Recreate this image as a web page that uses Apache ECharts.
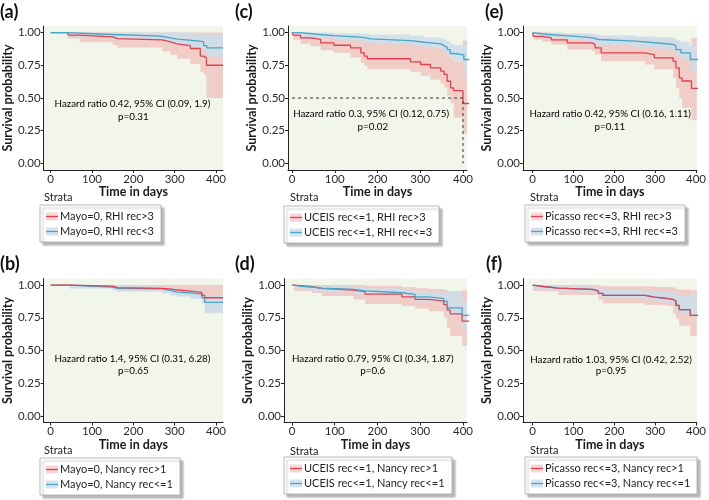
<!DOCTYPE html>
<html><head><meta charset="utf-8">
<script src="https://cdn.jsdelivr.net/npm/echarts@6/dist/echarts.min.js"></script>
<style>html,body{margin:0;padding:0;background:#fff}#c{width:709px;height:500px}</style>
</head><body><div id="c"></div>
<script>
// ---------------- DATA ----------------
const xTicks = [0, 100, 200, 300, 400];
const yTicks = [0, 0.25, 0.5, 0.75, 1];

// (a) Mayo=0, RHI
const aNames = ['Mayo=0, RHI rec>3', 'Mayo=0, RHI rec<3'];
const aRedT  = [0, 42, 70, 150, 162, 270, 290, 306, 338, 362, 370, 377, 417];
const aRedS  = [1, 0.98, 0.967, 0.954, 0.944, 0.929, 0.914, 0.90, 0.878, 0.82, 0.807, 0.75, 0.75];
const aRedLo = [1, 0.955, 0.925, 0.905, 0.885, 0.855, 0.83, 0.80, 0.76, 0.70, 0.675, 0.50, 0.50];
const aRedHi = [1, 1, 1, 1, 1, 1, 1, 1, 1, 1, 1, 1, 1];
const aBlueT  = [0, 42, 150, 266, 290, 306, 342, 370, 378, 417];
const aBlueS  = [1, 0.985, 0.972, 0.96, 0.95, 0.94, 0.93, 0.90, 0.883, 0.883];
const aBlueLo = [1, 0.97, 0.95, 0.935, 0.92, 0.905, 0.89, 0.855, 0.815, 0.815];
const aBlueHi = [1, 1, 1, 1, 1, 1, 0.995, 0.99, 0.985, 0.985];
const aText = ['Hazard ratio 0.42, 95% CI (0.09, 1.9)', 'p=0.31'];

// (c) UCEIS, RHI
const cNames = ['UCEIS rec<=1, RHI rec>3', 'UCEIS rec<=1, RHI rec<=3'];
const cRedT  = [0, 3, 20, 44, 67, 98, 137, 161, 169, 176, 277, 301, 324, 348, 356, 363, 371, 378, 400, 415];
const cRedS  = [1, 0.98, 0.96, 0.947, 0.921, 0.903, 0.883, 0.845, 0.82, 0.80, 0.776, 0.756, 0.73, 0.705, 0.68, 0.628, 0.578, 0.556, 0.458, 0.458];
const cRedLo = [1, 0.945, 0.915, 0.895, 0.865, 0.845, 0.81, 0.77, 0.745, 0.72, 0.70, 0.67, 0.64, 0.61, 0.58, 0.52, 0.46, 0.35, 0.23, 0.23];
const cRedHi = [1, 1, 0.995, 0.99, 0.985, 0.975, 0.965, 0.95, 0.94, 0.935, 0.925, 0.915, 0.90, 0.885, 0.87, 0.84, 0.80, 0.78, 0.94, 0.94];
const cBlueT  = [0, 20, 58, 98, 161, 184, 277, 309, 348, 356, 363, 370, 379, 402, 415];
const cBlueS  = [1, 0.987, 0.977, 0.965, 0.952, 0.939, 0.926, 0.913, 0.90, 0.887, 0.87, 0.84, 0.83, 0.794, 0.794];
const cBlueLo = [1, 0.965, 0.955, 0.94, 0.925, 0.91, 0.895, 0.88, 0.865, 0.85, 0.83, 0.80, 0.785, 0.69, 0.69];
const cBlueHi = [1, 1, 1, 0.995, 0.99, 0.985, 0.975, 0.965, 0.955, 0.945, 0.935, 0.915, 0.905, 0.91, 0.91];
const cMedian = 400;
const cText = ['Hazard ratio 0.3, 95% CI (0.12, 0.75)', 'p=0.02'];

// (e) Picasso, RHI
const eNames = ['Picasso rec<=3, RHI rec>3', 'Picasso rec<=3, RHI rec<=3'];
const eRedT  = [0, 2, 24, 46, 85, 146, 153, 168, 275, 298, 344, 351, 359, 366, 389, 405];
const eRedS  = [1, 0.97, 0.96, 0.944, 0.921, 0.908, 0.883, 0.845, 0.832, 0.807, 0.78, 0.73, 0.654, 0.63, 0.573, 0.573];
const eRedLo = [1, 0.947, 0.93, 0.908, 0.87, 0.86, 0.832, 0.78, 0.756, 0.718, 0.654, 0.578, 0.50, 0.425, 0.33, 0.33];
const eRedHi = [1, 1, 1, 0.995, 0.99, 0.985, 0.975, 0.96, 0.955, 0.95, 0.94, 0.92, 0.90, 0.89, 0.96, 0.96];
const eBlueT  = [0, 2, 39, 77, 123, 146, 161, 252, 306, 344, 351, 363, 386, 405];
const eBlueS  = [1, 0.985, 0.977, 0.967, 0.96, 0.947, 0.934, 0.92, 0.91, 0.896, 0.87, 0.845, 0.794, 0.794];
const eBlueLo = [1, 0.967, 0.958, 0.945, 0.935, 0.92, 0.905, 0.89, 0.875, 0.855, 0.825, 0.79, 0.70, 0.70];
const eBlueHi = [1, 1, 1, 0.995, 0.99, 0.985, 0.98, 0.97, 0.965, 0.96, 0.945, 0.93, 0.90, 0.90];
const eText = ['Hazard ratio 0.42, 95% CI (0.16, 1.11)', 'p=0.11'];

// (b) Mayo=0, Nancy
const bNames = ['Mayo=0, Nancy rec>1', 'Mayo=0, Nancy rec<=1'];
const bRedT  = [0, 46, 150, 162, 270, 290, 306, 338, 366, 373, 417];
const bRedS  = [1, 0.992, 0.98, 0.975, 0.97, 0.962, 0.954, 0.944, 0.921, 0.903, 0.903];
const bRedLo = [1, 0.978, 0.96, 0.952, 0.945, 0.933, 0.92, 0.905, 0.87, 0.79, 0.79];
const bRedHi = [1, 1, 1, 1, 1, 1, 1, 1, 1, 1, 1];
const bBlueT  = [0, 46, 150, 162, 270, 290, 306, 338, 366, 373, 417];
const bBlueS  = [1, 0.985, 0.975, 0.97, 0.959, 0.946, 0.94, 0.93, 0.903, 0.868, 0.868];
const bBlueLo = [1, 0.972, 0.958, 0.95, 0.935, 0.92, 0.91, 0.895, 0.86, 0.785, 0.785];
const bBlueHi = [1, 0.998, 0.992, 0.99, 0.983, 0.975, 0.97, 0.965, 0.945, 0.92, 0.92];
const bText = ['Hazard ratio 1.4, 95% CI (0.31, 6.28)', 'p=0.65'];

// (d) UCEIS, Nancy
const dNames = ['UCEIS rec<=1, Nancy rec>1', 'UCEIS rec<=1, Nancy rec<=1'];
const dRedT  = [0, 5, 47, 70, 144, 171, 257, 288, 320, 355, 363, 370, 398, 415];
const dRedS  = [1, 0.987, 0.975, 0.962, 0.949, 0.93, 0.91, 0.89, 0.877, 0.85, 0.81, 0.78, 0.725, 0.725];
const dRedLo = [1, 0.955, 0.94, 0.917, 0.89, 0.855, 0.84, 0.82, 0.80, 0.75, 0.67, 0.61, 0.535, 0.535];
const dRedHi = [1, 1, 1, 1, 1, 0.995, 0.985, 0.975, 0.97, 0.965, 0.955, 0.955, 0.96, 0.96];
const dBlueT  = [0, 5, 23, 47, 70, 144, 171, 257, 288, 320, 355, 363, 398, 415];
const dBlueS  = [1, 0.99, 0.985, 0.977, 0.967, 0.956, 0.941, 0.928, 0.91, 0.897, 0.877, 0.826, 0.768, 0.768];
const dBlueLo = [1, 0.975, 0.965, 0.955, 0.945, 0.93, 0.915, 0.90, 0.88, 0.865, 0.84, 0.77, 0.66, 0.66];
const dBlueHi = [1, 1, 1, 0.998, 0.99, 0.985, 0.975, 0.965, 0.955, 0.945, 0.93, 0.95, 0.88, 0.88];
const dText = ['Hazard ratio 0.79, 95% CI (0.34, 1.87)', 'p=0.6'];

// (f) Picasso, Nancy
const fNames = ['Picasso rec<=3, Nancy rec>1', 'Picasso rec<=3, Nancy rec<=1'];
const fRedT  = [0, 1, 31, 62, 146, 161, 172, 275, 298, 328, 344, 351, 359, 386, 405];
const fRedS  = [1, 0.987, 0.977, 0.967, 0.955, 0.937, 0.921, 0.908, 0.898, 0.89, 0.877, 0.844, 0.813, 0.768, 0.768];
const fRedLo = [1, 0.955, 0.95, 0.924, 0.924, 0.89, 0.86, 0.85, 0.845, 0.84, 0.78, 0.74, 0.69, 0.61, 0.61];
const fRedHi = [1, 1, 1, 1, 1, 0.995, 0.99, 0.99, 0.985, 0.985, 0.98, 0.97, 0.965, 0.96, 0.96];
const fBlueT  = [0, 1, 31, 62, 146, 161, 172, 275, 298, 328, 344, 351, 359, 386, 405];
const fBlueS  = [1, 0.987, 0.977, 0.967, 0.955, 0.937, 0.921, 0.908, 0.898, 0.89, 0.877, 0.844, 0.813, 0.768, 0.768];
const fBlueLo = [1, 0.97, 0.962, 0.95, 0.94, 0.915, 0.90, 0.885, 0.875, 0.865, 0.85, 0.81, 0.78, 0.77, 0.77];
const fBlueHi = [1, 1, 0.995, 0.99, 0.985, 0.975, 0.965, 0.955, 0.95, 0.945, 0.94, 0.93, 0.92, 0.94, 0.94];
const fText = ['Hazard ratio 1.03, 95% CI (0.42, 2.52)', 'p=0.95'];

// ---------------- LAYOUT / STYLE ----------------
const FONT = 'Lato';
const RED = '#E2404F', BLUE = '#48A6C6';
const RED_BAND = 'rgba(238,100,105,0.27)', BLUE_BAND = 'rgba(205,222,236,0.85)';
const BG = '#F2F5EA';

const panels = [
  {label:'(a)', lx:0,   ly:3,   left:42,  top:26,    width:181, xmin:-17,   xmax:417,   hr:[198,0.458], p:[200,0.356], strata:[44,197],  box:[40,205],  blueTop:true,
   red:[aRedT,aRedS,aRedLo,aRedHi], blue:[aBlueT,aBlueS,aBlueLo,aBlueHi], names:aNames, text:aText},
  {label:'(c)', lx:235, ly:3,   left:288, top:26,    width:179, xmin:-9.4,  xmax:409.4, hr:[185,0.382], p:[189,0.28],  strata:[290,197], box:[284,206], blueTop:true, median:cMedian,
   red:[cRedT,cRedS,cRedLo,cRedHi], blue:[cBlueT,cBlueS,cBlueLo,cBlueHi], names:cNames, text:cText},
  {label:'(e)', lx:485, ly:3,   left:523, top:26,    width:186, xmin:-23.5, xmax:402,   hr:[190,0.38],  p:[189,0.28],  strata:[530,197], box:[525,205], blueTop:true,
   red:[eRedT,eRedS,eRedLo,eRedHi], blue:[eBlueT,eBlueS,eBlueLo,eBlueHi], names:eNames, text:eText},
  {label:'(b)', lx:0,   ly:255, left:42,  top:278.5, width:181, xmin:-17,   xmax:417,   hr:[198,0.44],  p:[200,0.345], strata:[44,450],  box:[40,458],  blueTop:false,
   red:[bRedT,bRedS,bRedLo,bRedHi], blue:[bBlueT,bBlueS,bBlueLo,bBlueHi], names:bNames, text:bText},
  {label:'(d)', lx:235, ly:255, left:284, top:278.5, width:183, xmin:-18.7, xmax:409.4, hr:[189,0.44],  p:[189,0.345], strata:[290,451], box:[284,457], blueTop:true,
   red:[dRedT,dRedS,dRedLo,dRedHi], blue:[dBlueT,dBlueS,dBlueLo,dBlueHi], names:dNames, text:dText},
  {label:'(f)', lx:486, ly:255, left:523, top:278.5, width:186, xmin:-23.5, xmax:402,   hr:[192,0.427], p:[192,0.345], strata:[530,450], box:[525,457], blueTop:false,
   red:[fRedT,fRedS,fRedLo,fRedHi], blue:[fBlueT,fBlueS,fBlueLo,fBlueHi], names:fNames, text:fText}
];
const PH = 144;

const grid = [], xAxis = [], yAxis = [], series = [], graphic = [];
const mctx = document.createElement('canvas').getContext('2d');
mctx.font = '11px ' + FONT;

function pairs(t, v) { return t.map((x, i) => [x, v[i]]); }

function bandRenderer(t, lo, hi, color) {
  return function (params, api) {
    const top = [], bot = [];
    for (let i = 0; i < t.length; i++) {
      const x0 = t[i], x1 = i + 1 < t.length ? t[i + 1] : t[i];
      top.push(api.coord([x0, hi[i]]), api.coord([x1, hi[i]]));
      bot.push(api.coord([x0, lo[i]]), api.coord([x1, lo[i]]));
    }
    const cs = params.coordSys;
    return {type:'polygon', shape:{points: top.concat(bot.reverse())}, style:{fill:color},
      clipPath:{type:'rect', shape:{x:cs.x, y:cs.y, width:cs.width, height:cs.height}}};
  };
}

panels.forEach((P, gi) => {
  grid.push({left:P.left, top:P.top, width:P.width, height:PH, show:true, backgroundColor:BG, borderWidth:0, containLabel:false});
  xAxis.push({type:'value', gridIndex:gi, min:P.xmin, max:P.xmax,
    name:'Time in days', nameLocation:'middle', nameGap:14,
    nameTextStyle:{fontFamily:FONT, fontWeight:'bold', fontSize:12.5, color:'#1a1a1a'},
    axisLine:{show:true, onZero:false, lineStyle:{color:'#222', width:1}},
    axisTick:{show:true, length:3, customValues:xTicks, lineStyle:{color:'#222'}},
    axisLabel:{customValues:xTicks, fontFamily:FONT, fontSize:11.5, color:'#2b2b2b', margin:3, showMinLabel:true, showMaxLabel:true},
    splitLine:{show:false}});
  yAxis.push({type:'value', gridIndex:gi, min:-0.05, max:1.05,
    name:'Survival probability', nameLocation:'middle', nameGap:27,
    nameTextStyle:{fontFamily:FONT, fontWeight:'bold', fontSize:12.5, color:'#1a1a1a'},
    axisLine:{show:true, onZero:false, lineStyle:{color:'#222', width:1}},
    axisTick:{show:true, length:3, customValues:yTicks, lineStyle:{color:'#222'}},
    axisLabel:{customValues:yTicks, formatter:v => v.toFixed(2), fontFamily:FONT, fontSize:11.5, color:'#2b2b2b', margin:3},
    splitLine:{show:false}});

  const band = (arr, color) => {
    const [t, , lo, hi] = arr;
    series.push({type:'custom', xAxisIndex:gi, yAxisIndex:gi, data:[[t[0], hi[0]]],
      renderItem:bandRenderer(t, lo, hi, color), silent:true, z:1});
  };
  band(P.red, RED_BAND);
  band(P.blue, BLUE_BAND);

  const line = (arr, color, name, z) => {
    series.push({type:'line', name:name, xAxisIndex:gi, yAxisIndex:gi, data:pairs(arr[0], arr[1]), step:'end',
      symbol:'none', lineStyle:{color:color, width:1.3}, silent:true, z:z});
  };
  line(P.red, RED, P.names[0], P.blueTop ? 3 : 4);
  line(P.blue, BLUE, P.names[1], P.blueTop ? 4 : 3);

  if (P.median !== undefined) {
    series.push({type:'line', xAxisIndex:gi, yAxisIndex:gi, data:[[0, 0.5], [P.median, 0.5], [P.median, 0]],
      symbol:'none', lineStyle:{color:'#333', width:1, type:[3, 3]}, silent:true, z:5});
  }

  [[P.hr, P.text[0]], [P.p, P.text[1]]].forEach(([pt, txt]) => {
    series.push({type:'scatter', xAxisIndex:gi, yAxisIndex:gi, data:[pt], symbolSize:1,
      itemStyle:{color:'rgba(0,0,0,0)'}, silent:true, z:6,
      label:{show:true, position:'inside', formatter:txt, fontFamily:FONT, fontSize:9.8, color:'#000', opacity:1, textBorderWidth:0}});
  });

  graphic.push({type:'text', left:P.lx, top:P.ly, style:{text:P.label, font:'bold 18px ' + FONT, fill:'#111'}});
  graphic.push({type:'text', x:P.strata[0], y:P.strata[1], style:{text:'Strata', font:'11px ' + FONT, fill:'#222', verticalAlign:'middle'}});
  const tw = Math.max(mctx.measureText(P.names[0]).width, mctx.measureText(P.names[1]).width);
  const bx = P.box[0], by = P.box[1], bw = Math.round(20 + tw + 7), bh = 37;
  graphic.push({type:'rect', shape:{x:bx, y:by, width:bw, height:bh},
    style:{fill:'#fff', stroke:'#A8A8A8', lineWidth:0.8, shadowBlur:2, shadowOffsetX:3, shadowOffsetY:3, shadowColor:'rgba(0,0,0,0.28)'}, z:10});
  [[RED_BAND, RED, P.names[0]], [BLUE_BAND, BLUE, P.names[1]]].forEach(([bc, lc, nm], k) => {
    const ry = by + 11.5 + k * 15;
    graphic.push({type:'rect', shape:{x:bx + 6, y:ry - 4, width:12, height:8}, style:{fill:bc}, z:11});
    graphic.push({type:'line', shape:{x1:bx + 6, y1:ry, x2:bx + 18, y2:ry}, style:{stroke:lc, lineWidth:1.3}, z:12});
    graphic.push({type:'text', x:bx + 20, y:ry, style:{text:nm, font:'11px ' + FONT, fill:'#1f1f1f', verticalAlign:'middle'}, z:12});
  });
});

const chart = echarts.init(document.getElementById('c'), null, {renderer:'canvas'});
chart.setOption({animation:false, backgroundColor:'#fff', grid, xAxis, yAxis, series, graphic});
</script></body></html>
